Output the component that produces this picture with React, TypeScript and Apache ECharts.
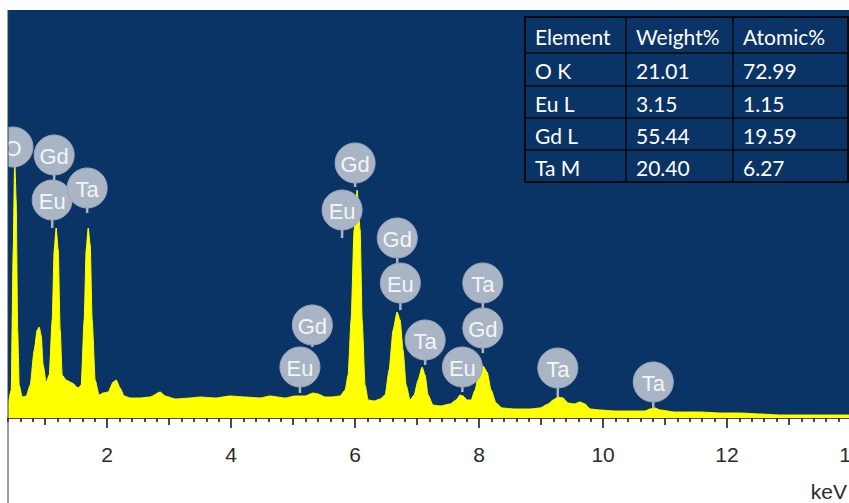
import React, { useEffect, useRef } from "react";
import * as echarts from "echarts";

// ---- spectrum (energy in keV, intensity in counts) ----
const spectrumEnergy = [
  0.4, 0.452, 0.484, 0.508, 0.532, 0.556, 0.581, 0.629, 0.694, 0.758, 0.823, 0.871, 0.903, 0.935, 0.968,
  1.016, 1.065, 1.113, 1.145, 1.177, 1.21, 1.242, 1.274, 1.339, 1.435, 1.532, 1.581, 1.629, 1.661, 1.694,
  1.726, 1.758, 1.806, 1.871, 1.935, 2.016, 2.097, 2.145, 2.21, 2.274, 2.371, 2.532, 2.694, 2.855, 2.935,
  3.097, 3.339, 3.5, 3.742, 3.984, 4.226, 4.468, 4.629, 4.871, 5.032, 5.194, 5.323, 5.403, 5.516, 5.629,
  5.758, 5.839, 5.887, 5.935, 5.984, 6.032, 6.081, 6.113, 6.161, 6.21, 6.306, 6.403, 6.484, 6.548, 6.613,
  6.677, 6.726, 6.774, 6.823, 6.887, 6.952, 7.016, 7.081, 7.129, 7.177, 7.258, 7.371, 7.532, 7.629, 7.694,
  7.742, 7.806, 7.871, 7.935, 8.0, 8.065, 8.129, 8.194, 8.274, 8.371, 8.581, 8.823, 8.984, 9.113, 9.194,
  9.274, 9.355, 9.435, 9.532, 9.629, 9.71, 9.79, 9.952, 10.194, 10.435, 10.677, 10.758, 10.839, 10.919,
  11.161, 11.565, 11.887, 12.21, 12.532, 12.855, 13.177, 13.5, 14.0,
];
const spectrumCounts = [
  130, 280, 1680, 2580, 2180, 880, 330, 210, 220, 330, 680, 880, 910, 830, 530,
  360, 430, 980, 1680, 1900, 1680, 880, 430, 380, 350, 300, 330, 980, 1680, 1900,
  1730, 980, 380, 230, 250, 260, 360, 380, 300, 220, 200, 200, 210, 260, 220,
  190, 200, 210, 200, 220, 210, 200, 220, 200, 220, 220, 250, 240, 210, 210,
  220, 280, 430, 980, 1880, 2280, 1880, 980, 330, 180, 170, 190, 230, 480, 880,
  1060, 980, 680, 330, 180, 230, 380, 510, 430, 230, 130, 120, 140, 180, 230,
  220, 180, 180, 280, 460, 520, 460, 280, 150, 100, 90, 90, 100, 140, 180,
  210, 200, 150, 140, 160, 140, 90, 80, 70, 70, 70, 90, 100, 80,
  60, 60, 50, 50, 40, 30, 30, 30, 30,
];

// ---- peak identification markers ----
const peakLabelNames = ["O", "Gd", "Eu", "Ta", "Gd", "Eu", "Gd", "Eu", "Ta", "Ta", "Gd", "Eu", "Gd", "Eu", "Ta", "Ta"];
const peakLabelEnergy = [0.48, 1.145, 1.113, 1.677, 6.0, 5.79, 6.68, 6.73, 7.13, 8.06, 8.06, 7.73, 5.31, 5.11, 9.27, 10.81];
const peakLabelHeight = [2710, 2630, 2180, 2300, 2550, 2080, 1800, 1350, 780, 1350, 900, 510, 930, 510, 500, 360];
const peakStemEnd = [2580, 2380, 1900, 2050, 2310, 1800, 1550, 1080, 530, 1100, 650, 260, 710, 250, 210, 100];

// ---- axis ticks ----
const majorTicks = [2, 4, 6, 8, 10, 12, 14];
const mediumTicks = [1, 3, 5, 7, 9, 11, 13];
const minorTicks: number[] = [];
for (let i = 2; i <= 70; i++) {
  const v = Math.round(i * 20) / 100;
  if (Math.abs(v - Math.round(v)) > 1e-6) minorTicks.push(v);
}

// ---- quantification table ----
const tableHeaders = ["Element", "Weight%", "Atomic%"];
const tableElements = ["O K", "Eu L", "Gd L", "Ta M"];
const tableWeight = ["21.01", "3.15", "55.44", "20.40"];
const tableAtomic = ["72.99", "1.15", "19.59", "6.27"];

const BLUE = "#0b3466";
const GREY = "#a9b4c4";
const AXIS_FONT = "'Liberation Sans Narrow', 'Liberation Sans', Arial, sans-serif";

function buildTable(): any[] {
  const colX = [525, 626, 733, 848];
  const rowY = [17, 53, 86, 118, 150, 182];
  const els: any[] = [];
  els.push({
    type: "rect",
    shape: { x: colX[0], y: rowY[0], width: colX[3] - colX[0], height: rowY[5] - rowY[0] },
    style: { fill: BLUE, stroke: "#05080f", lineWidth: 2 },
    z: 10,
  });
  for (let c = 1; c < 3; c++) {
    els.push({
      type: "line",
      shape: { x1: colX[c], y1: rowY[0], x2: colX[c], y2: rowY[5] },
      style: { stroke: "#05080f", lineWidth: 1.5 },
      z: 11,
    });
  }
  for (let r = 1; r < 5; r++) {
    els.push({
      type: "line",
      shape: { x1: colX[0], y1: rowY[r], x2: colX[3], y2: rowY[r] },
      style: { stroke: "#05080f", lineWidth: 1.5 },
      z: 11,
    });
  }
  const rows = [tableHeaders, ...tableElements.map((e, i) => [e, tableWeight[i], tableAtomic[i]])];
  rows.forEach((row, r) => {
    row.forEach((txt, c) => {
      els.push({
        type: "text",
        x: colX[c] + 10,
        y: (rowY[r] + rowY[r + 1]) / 2 + 1,
        style: {
          text: txt,
          fill: "#ffffff",
          font: "21px Lato, 'Open Sans', sans-serif",
          align: "left",
          verticalAlign: "middle",
        },
        z: 12,
      });
    });
  });
  return els;
}

export default function App() {
  const ref = useRef<HTMLDivElement>(null);
  useEffect(() => {
    if (!ref.current) return;
    const chart = echarts.init(ref.current, undefined, { renderer: "svg" });
    const baseX = { type: "value", min: 0.4, max: 14, position: "bottom", gridIndex: 0, splitLine: { show: false } };
    chart.setOption({
      animation: false,
      backgroundColor: "#ffffff",
      grid: {
        left: 8,
        right: 0,
        top: 10,
        bottom: 85,
        show: true,
        backgroundColor: BLUE,
        borderWidth: 0,
        containLabel: false,
        outerBoundsMode: "none",
      },
      xAxis: [
        {
          ...baseX,
          axisLine: { show: true, onZero: false, lineStyle: { color: "#111111", width: 1.5 } },
          axisTick: { show: true, customValues: majorTicks, length: 10, lineStyle: { color: "#111111", width: 1.5 } },
          axisLabel: {
            show: true,
            customValues: majorTicks,
            margin: 26,
            fontSize: 21,
            color: "#2a2a2a",
            fontFamily: AXIS_FONT,
            hideOverlap: false,
          },
        },
        {
          ...baseX,
          axisLine: { show: false, onZero: false },
          axisTick: { show: true, customValues: mediumTicks, length: 7, lineStyle: { color: "#111111", width: 1.5 } },
          axisLabel: { show: false },
        },
        {
          ...baseX,
          axisLine: { show: false, onZero: false },
          axisTick: { show: true, customValues: minorTicks, length: 4, lineStyle: { color: "#111111", width: 1.5 } },
          axisLabel: { show: false },
        },
      ],
      yAxis: { type: "value", min: 0, max: 4080, show: false },
      series: [
        {
          type: "line",
          xAxisIndex: 0,
          data: spectrumEnergy.map((e, i) => [e, spectrumCounts[i]]),
          showSymbol: false,
          smooth: 0.2,
          smoothMonotone: "x",
          lineStyle: { color: "#ffff00", width: 1 },
          areaStyle: { color: "#ffff00", opacity: 1 },
          z: 2,
        },
        {
          type: "custom",
          xAxisIndex: 0,
          clip: true,
          data: peakLabelEnergy.map((e, i) => [e, peakLabelHeight[i], peakStemEnd[i]]),
          encode: { x: 0, y: 1 },
          z: 5,
          renderItem: (params: any, api: any) => {
            const c = api.coord([api.value(0), api.value(1)]);
            const b = api.coord([api.value(0), api.value(2)]);
            return {
              type: "group",
              children: [
                {
                  type: "line",
                  shape: { x1: c[0], y1: c[1], x2: b[0], y2: b[1] },
                  style: { stroke: GREY, lineWidth: 2.5 },
                },
                {
                  type: "circle",
                  shape: { cx: c[0], cy: c[1], r: 20 },
                  style: { fill: GREY, stroke: "#9ba7b9", lineWidth: 1 },
                },
                {
                  type: "text",
                  x: c[0],
                  y: c[1] + 1,
                  style: {
                    text: peakLabelNames[params.dataIndex],
                    fill: "#f3f5f8",
                    font: "22px " + AXIS_FONT,
                    align: "center",
                    verticalAlign: "middle",
                  },
                },
              ],
            };
          },
        },
      ],
      graphic: [
        {
          type: "line",
          shape: { x1: 8, y1: 10, x2: 8, y2: 503 },
          style: { stroke: "#2c3e58", lineWidth: 1 },
          z: 20,
        },
        {
          type: "text",
          x: 847,
          y: 491,
          style: {
            text: "keV",
            fill: "#2a2a2a",
            font: "21px " + AXIS_FONT,
            align: "right",
            verticalAlign: "middle",
          },
          z: 20,
        },
        ...buildTable(),
      ],
    });
    return () => chart.dispose();
  }, []);
  return (
    <div style={{ position: "fixed", left: 0, top: 0, width: 849, height: 503, overflow: "hidden", background: "#fff" }}>
      <div ref={ref} style={{ width: 851, height: 503 }} />
    </div>
  );
}
